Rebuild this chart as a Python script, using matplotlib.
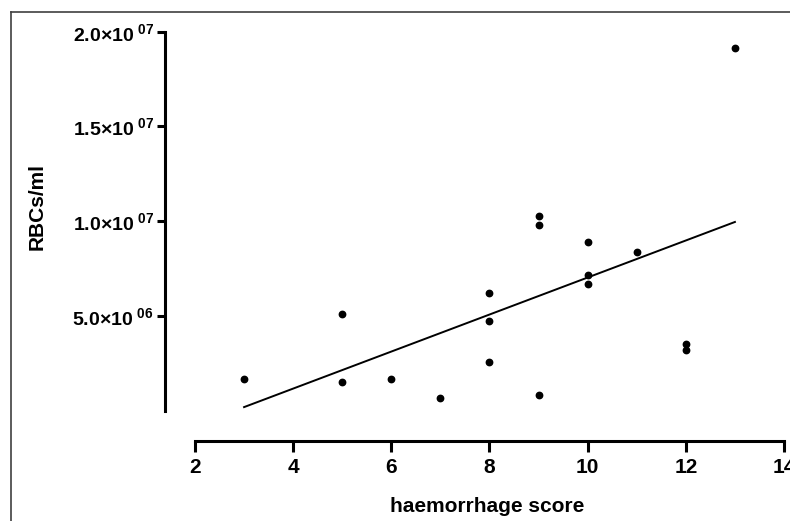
import numpy as np
import matplotlib
matplotlib.use("Agg")
import matplotlib.pyplot as plt
from matplotlib.lines import Line2D
from matplotlib.ticker import FixedLocator, FuncFormatter

plt.rcParams['font.family'] = ['Liberation Sans', 'DejaVu Sans']
plt.rcParams['mathtext.fontset'] = 'custom'
plt.rcParams['mathtext.rm'] = 'Liberation Sans'
plt.rcParams['mathtext.bf'] = 'Liberation Sans:bold'

# haemorrhage score vs RBC count
score = [3, 5, 5, 6, 7, 8, 8, 8, 9, 9, 9, 10, 10, 10, 11, 12, 12, 13]
rbcs = [1.66e6, 5.11e6, 1.52e6, 1.66e6, 0.64e6, 6.22e6, 4.74e6, 2.58e6,
        10.29e6, 9.79e6, 0.83e6, 8.91e6, 7.14e6, 6.66e6, 8.35e6,
        3.51e6, 3.19e6, 19.16e6]

x_ticks = [2, 4, 6, 8, 10, 12, 14]
y_ticks = [5e6, 1e7, 1.5e7, 2e7]
y_tick_labels = ["5.0×10", "1.0×10", "1.5×10", "2.0×10"]
y_tick_exps = ["06", "07", "07", "07"]

W, H = 790, 521
fig = plt.figure(figsize=(W / 100, H / 100), dpi=100)

# axes box in pixels: y spine at x=165, x spine at y=441
left_px, right_px, bottom_px, top_px = 165, 784, 441, 31.7
ax = fig.add_axes([left_px / W, 1 - bottom_px / H,
                   (right_px - left_px) / W, (bottom_px - top_px) / H])

x = np.array(score, dtype=float)
y = np.array(rbcs)
ax.plot(x, y, 'o', color='black', ms=4.6, mec='black', zorder=3)

# linear regression drawn over the data range
slope, intercept = np.polyfit(x, y, 1)
xf = np.array([x.min(), x.max()])
ax.plot(xf, slope * xf + intercept, color='black', lw=1.4)

ax.set_xlim(1.389, 14)
ax.set_ylim(-1.61e6, 2e7)

for side in ('top', 'right'):
    ax.spines[side].set_visible(False)
for side in ('left', 'bottom'):
    ax.spines[side].set_linewidth(2.2)
ax.spines['bottom'].set_bounds(2, 14)
ax.spines['left'].set_bounds(0, 2e7)

ax.xaxis.set_major_locator(FixedLocator(x_ticks))
ax.yaxis.set_major_locator(FixedLocator(y_ticks))
ax.yaxis.set_major_formatter(FuncFormatter(
    lambda v, pos: r'$\mathbf{%s^{\ %s}}$' % (
        y_tick_labels[pos], y_tick_exps[pos]) if pos is not None and pos < len(y_tick_labels) else ''))
ax.tick_params(axis='x', length=8, width=2.2, pad=4, labelsize=15)
ax.tick_params(axis='y', length=6, width=2.2, pad=2, labelsize=14)
for lab in ax.get_xticklabels():
    lab.set_fontweight('bold')

ax.set_xlabel("haemorrhage score", fontsize=15, fontweight='bold')
ax.xaxis.set_label_coords(0.521, -0.137)
ax.xaxis.label.set_va('top')
ax.set_ylabel("RBCs/ml", fontsize=15, fontweight='bold')
ax.yaxis.set_label_coords(-0.2068, 0.574)
ax.yaxis.label.set_va('center')

# thin frame of the screenshot (top and left edges)
frame_kw = dict(color='#404040', lw=1.2, transform=fig.transFigure)
fig.add_artist(Line2D([11 / W, 1], [1 - 12 / H, 1 - 12 / H], **frame_kw))
fig.add_artist(Line2D([11 / W, 11 / W], [0, 1 - 12 / H], **frame_kw))

fig.savefig("out.png", dpi=100)
